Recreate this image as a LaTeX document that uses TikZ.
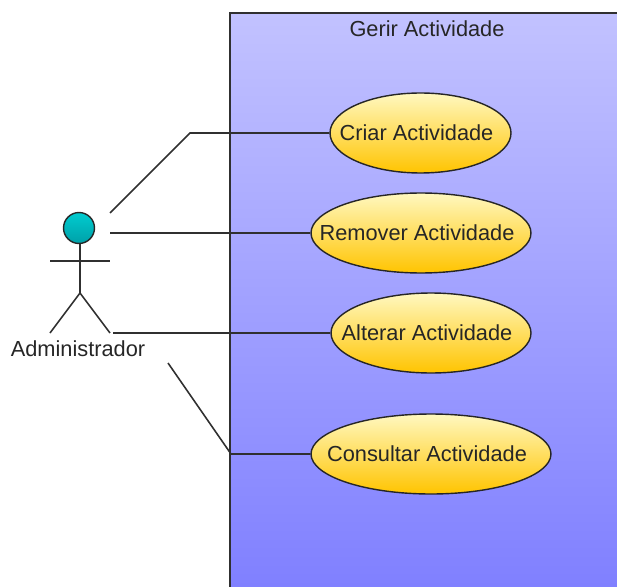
\documentclass[tikz,border=0pt]{standalone}
\usepackage{fontspec}
\setmainfont{Liberation Sans}
\usetikzlibrary{shapes.geometric, positioning}
\definecolor{boxtop}{HTML}{C2C2FF}
\definecolor{boxbottom}{HTML}{8080FF}
\definecolor{casetop}{HTML}{FFF8C0}
\definecolor{casebottom}{HTML}{FFC400}
\definecolor{headtop}{HTML}{00CCD0}
\definecolor{headbottom}{HTML}{00A0A8}
\definecolor{edgegray}{HTML}{303030}
\tikzset{
  labelfont/.style={font=\fontsize{12.4}{14}\selectfont, text=black!85},
  usecase/.style={ellipse, draw=black!85, line width=0.8pt, top color=casetop, bottom color=casebottom,
                  inner xsep=-0.6cm, inner ysep=0pt, minimum height=1.6cm, labelfont,
                  execute at begin node={\kern-0.16cm}},
  link/.style={draw=edgegray, line width=0.9pt},
  stick/.style={draw=edgegray, line width=0.9pt}
}

\begin{document}
\begin{tikzpicture}[x=0.02cm, y=-0.02cm]
            \useasboundingbox (0, 0) rectangle (617, 587);
            % System boundary, open at the right and at the bottom
            \node[top color=boxtop, bottom color=boxbottom, inner sep=0pt, outer sep=0pt,
                  minimum width=7.74cm, minimum height=11.48cm]
                  (sys) at (423.5, 300) {};
            \draw[line width=0.9pt, edgegray] (sys.south west) -- (sys.north west) -- (sys.north east);
            \node[labelfont] (title) at (427, 29) {Gerir Actividade};
            % Use cases
            \node[usecase, minimum width=3.62cm] (criar) at (420.5, 133) {Criar Actividade};
            \node[usecase, minimum width=4.4cm] (remover) at (421, 233) {Remover Actividade};
            \node[usecase, minimum width=4.0cm] (alterar) at (431, 333) {Alterar Actividade};
            \node[usecase, minimum width=4.8cm] (consultar) at (431, 454) {Consultar Actividade};
            % Actor
            \node[circle, draw=black!85, line width=0.8pt, top color=headtop, bottom color=headbottom,
                  inner sep=0pt, minimum size=0.62cm] (head) at (79, 228) {};
            \coordinate (hip) at (80, 293);
            \coordinate (armL) at (50, 261);
            \coordinate (armR) at (110, 261);
            \coordinate (footL) at (50, 333);
            \coordinate (footR) at (110, 333);
            \draw[stick] (head.south -| hip) -- (hip);
            \draw[stick] (armL) -- (armR);
            \draw[stick] (footL) -- (hip) -- (footR);
            \node[labelfont] (actor) at (78, 349) {Administrador};
            % Connectors
            \coordinate (e1) at (110, 213);
            \coordinate (k1) at (190, 133);
            \coordinate (e2) at (110, 233);
            \coordinate (e3) at (113, 333);
            \coordinate (e4) at (168, 363);
            \coordinate (k4) at (231, 454);
            \draw[link] (e1) -- (k1) -- (criar.west);
            \draw[link] (e2) -- (remover.west);
            \draw[link] (e3) -- (alterar.west);
            \draw[link] (e4) -- (k4) -- (consultar.west);
        \end{tikzpicture}
\end{document}
